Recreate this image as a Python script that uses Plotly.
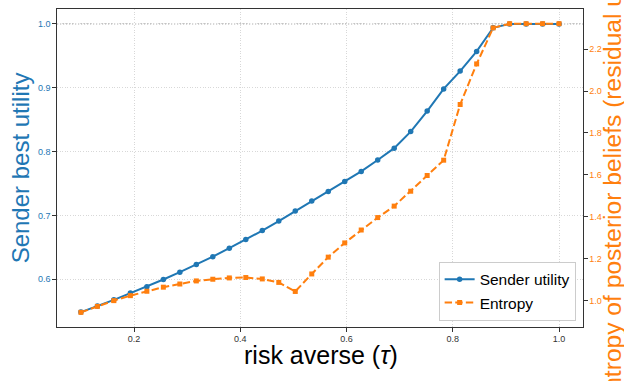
import plotly.graph_objects as go

# ---------------- data ----------------
tau = [0.1 + i * 0.9 / 29 for i in range(30)]  # 30 evenly spaced risk-aversion levels (0.1 .. 1.0)

sender_utility = [0.5486, 0.5580, 0.5678, 0.5784, 0.5885, 0.5997, 0.6111, 0.6230, 0.6355, 0.6487,
                  0.6623, 0.6763, 0.6912, 0.7068, 0.7226, 0.7374, 0.7533, 0.7690, 0.7868, 0.8054,
                  0.8313, 0.8635, 0.8982, 0.9261, 0.9569, 0.9939, 1.0, 1.0, 1.0, 1.0]

entropy = [0.943, 0.9715, 0.999, 1.0228, 1.0437, 1.0632, 1.0784, 1.0931, 1.1012, 1.1074,
           1.1093, 1.1026, 1.0860, 1.0428, 1.1264, 1.2067, 1.2746, 1.3363, 1.3957, 1.4504,
           1.5216, 1.5967, 1.6698, 1.9359, 2.1297, 2.3017, 2.3219, 2.3219, 2.3219, 2.3219]

x_ticks = [0.2, 0.4, 0.6, 0.8, 1.0]
left_ticks = [0.6, 0.7, 0.8, 0.9, 1.0]
right_ticks = [1.0, 1.2, 1.4, 1.6, 1.8, 2.0, 2.2]
reference_utility = 1.0

BLUE = "#1f77b4"
ORANGE = "#ff7f0e"

fig = go.Figure()
fig.add_trace(go.Scatter(
    x=tau, y=sender_utility, name="Sender utility", mode="lines+markers",
    line=dict(color=BLUE, width=2), marker=dict(symbol="circle", size=5.5, color=BLUE),
    yaxis="y"))
fig.add_trace(go.Scatter(
    x=tau, y=entropy, name="Entropy", mode="lines+markers",
    line=dict(color=ORANGE, width=2, dash="7.4px,3.2px"),
    marker=dict(symbol="square", size=5, color=ORANGE),
    yaxis="y2"))

fig.add_shape(type="line", xref="paper", x0=0, x1=1, yref="y",
              y0=reference_utility, y1=reference_utility,
              line=dict(color="#b0b0b0", width=1.2, dash="1.2px,1.8px"), layer="below")

axis_line = dict(showline=True, linecolor="#333333", linewidth=1.2,
                 ticks="outside", ticklen=3.5, tickwidth=1, tickcolor="#333333",
                 zeroline=False)

fig.update_layout(
    width=624, height=381,
    margin=dict(l=57.3, r=41.3, t=7.3, b=53.7, pad=0),
    paper_bgcolor="white", plot_bgcolor="white",
    font=dict(family="Liberation Sans, Arial, sans-serif"),
    showlegend=True,
    xaxis=dict(range=[0.055, 1.045], tickvals=x_ticks, ticktext=[f"{v:.1f}" for v in x_ticks],
               mirror=True, showgrid=True, gridcolor="#d8d8d8", griddash="1px,1.6px", gridwidth=0.8,
               tickfont=dict(size=9, color="#333333"), **axis_line),
    yaxis=dict(range=[0.5253, 1.0233], tickvals=left_ticks, ticktext=[f"{v:.1f}" for v in left_ticks],
               mirror=True, showgrid=True, gridcolor="#d8d8d8", griddash="1px,1.6px", gridwidth=0.8,
               tickfont=dict(size=9, color=BLUE), **axis_line),
    yaxis2=dict(range=[0.873, 2.392], tickvals=right_ticks, ticktext=[f"{v:.1f}" for v in right_ticks],
                overlaying="y", side="right", showgrid=False, showline=False, zeroline=False,
                ticks="outside", ticklen=3.5, tickwidth=1, tickcolor="#333333",
                tickfont=dict(size=9, color=ORANGE)),
    legend=dict(x=0.986, xanchor="right", y=0.0197, yanchor="bottom",
                bgcolor="white", bordercolor="#cccccc", borderwidth=1,
                font=dict(size=15.5, color="black"), tracegroupgap=0),
)

fig.add_annotation(text="risk averse (<i>τ</i>)", xref="paper", yref="paper",
                   x=0.502, y=-0.0885, xanchor="center", yanchor="middle",
                   showarrow=False, font=dict(size=25, color="black"))
fig.add_annotation(text="Sender best utility", xref="paper", yref="paper",
                   x=-0.0697, y=0.5, xanchor="center", yanchor="middle", textangle=-90,
                   showarrow=False, font=dict(size=24, color=BLUE))
fig.add_annotation(text="Entropy of posterior beliefs (residual uncertainty)", xref="paper", yref="paper",
                   x=1.0552, y=-0.26, xanchor="center", yanchor="bottom", textangle=-90,
                   showarrow=False, font=dict(size=24.6, color=ORANGE))

fig.write_html("out.html", config={"displayModeBar": False},
               post_script="document.body.style.margin='0px';document.body.style.overflow='hidden';")
